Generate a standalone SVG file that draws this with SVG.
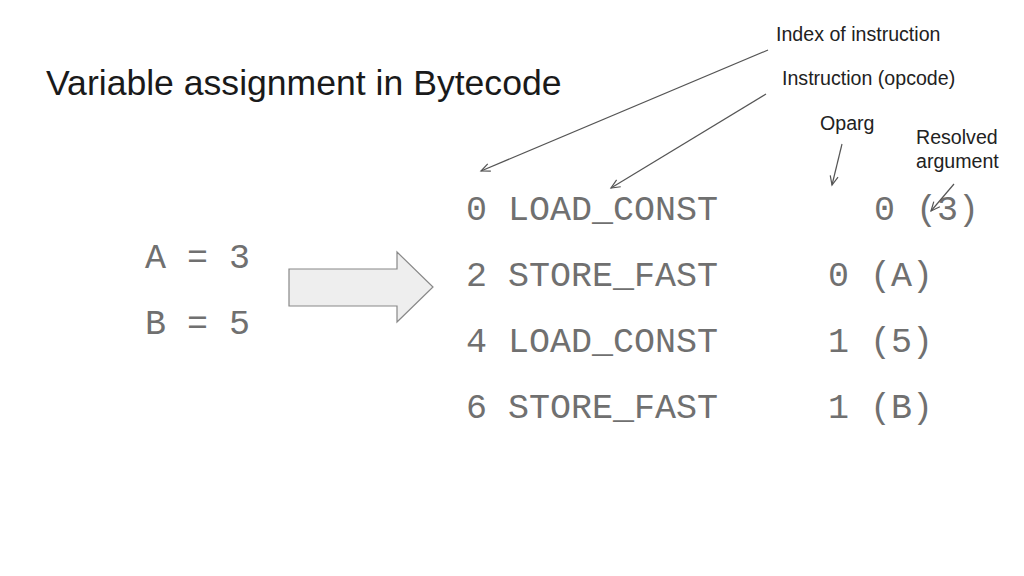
<svg xmlns="http://www.w3.org/2000/svg" width="1024" height="576" viewBox="0 0 1024 576">
<style>
.title{font-family:"Liberation Sans",Arial,sans-serif;font-size:35.6px;fill:#1a1a1a}
.lbl{font-family:"Liberation Sans",Arial,sans-serif;font-size:19.6px;fill:#222}
.mono{font-family:"Liberation Mono","Courier New",monospace;font-size:35px;fill:#707070}
.conn{stroke:#555;stroke-width:1.2;fill:none;marker-end:url(#ah)}
</style>
<defs>
<marker id="ah" markerWidth="12" markerHeight="12" refX="10" refY="5" orient="auto" markerUnits="userSpaceOnUse">
<path d="M1,1 L10,5 L1,9" fill="none" stroke="#555" stroke-width="1.2"/>
</marker>
</defs>
<rect width="1024" height="576" fill="#fff"/>
<g id="title"><text class="title" x="46" y="95">Variable assignment in Bytecode</text></g>
<g id="source">
<text class="mono" x="145" y="268">A = 3</text>
<text class="mono" x="145" y="334">B = 5</text>
</g>
<g id="bigarrow">
<path d="M289,269 L397,269 L397,252 L433,287 L397,322 L397,306 L289,306 Z" fill="#eeeeee" stroke="#888" stroke-width="1.2"/>
</g>
<g id="bytecode">
<text class="mono" x="466" y="220">0 LOAD_CONST</text>
<text class="mono" x="874" y="220">0 (3)</text>
<text class="mono" x="466" y="286">2 STORE_FAST</text>
<text class="mono" x="828" y="286">0 (A)</text>
<text class="mono" x="466" y="352">4 LOAD_CONST</text>
<text class="mono" x="828" y="352">1 (5)</text>
<text class="mono" x="466" y="418">6 STORE_FAST</text>
<text class="mono" x="828" y="418">1 (B)</text>
</g>
<g id="label-index"><text class="lbl" x="776" y="41">Index of instruction</text></g>
<g id="label-opcode"><text class="lbl" x="782" y="85">Instruction (opcode)</text></g>
<g id="label-oparg"><text class="lbl" x="820" y="130">Oparg</text></g>
<g id="label-resolved">
<text class="lbl" x="916" y="144">Resolved</text>
<text class="lbl" x="916" y="168">argument</text>
</g>
<g id="connectors">
<line class="conn" x1="768" y1="50" x2="481" y2="171"/>
<line class="conn" x1="766" y1="94" x2="611" y2="188"/>
<line class="conn" x1="842" y1="144" x2="832" y2="185"/>
<line class="conn" x1="954" y1="184" x2="931" y2="211"/>
</g>
</svg>
